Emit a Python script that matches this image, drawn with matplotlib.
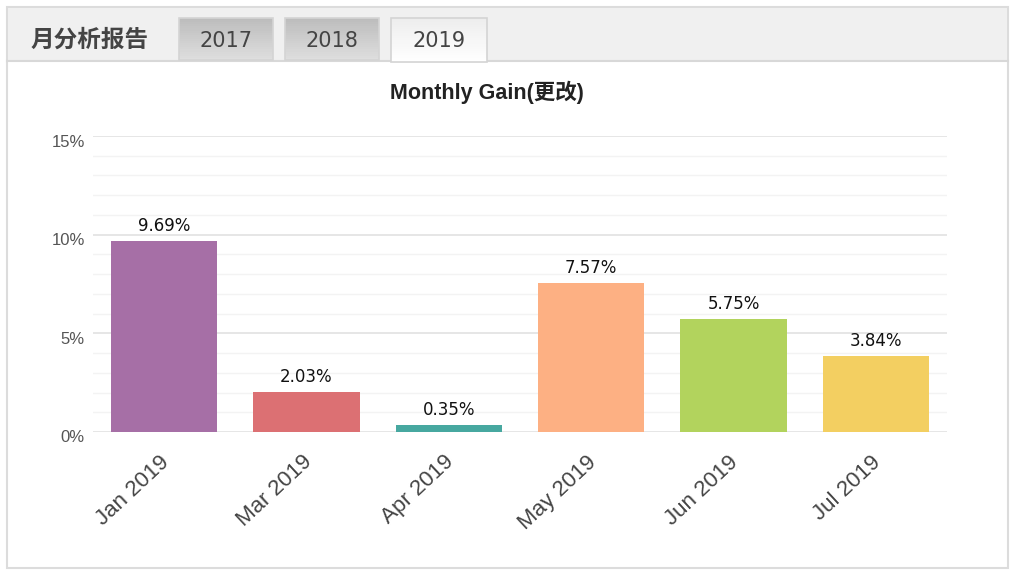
import matplotlib.pyplot as plt
from matplotlib.patches import Rectangle
from matplotlib.ticker import MultipleLocator, FuncFormatter
from matplotlib.transforms import ScaledTranslation
import numpy as np

months = ['Jan 2019', 'Mar 2019', 'Apr 2019', 'May 2019', 'Jun 2019', 'Jul 2019']
gains = [9.69, 2.03, 0.35, 7.57, 5.75, 3.84]
bar_colors = ['#a66fa6', '#dc7073', '#47a8a0', '#fdb083', '#b2d35d', '#f3cf61']
tabs = ['2017', '2018', '2019']
title = 'Monthly Gain(更改)'

W, H = 1014, 574
fig = plt.figure(figsize=(W / 100, H / 100), dpi=100, facecolor='white')


def px_rect(x0, y0, x1, y1, **kw):
    # rectangle in pixel coords, origin top-left
    kw.setdefault('zorder', -10)
    fig.patches.append(Rectangle((x0 / W, 1 - y1 / H), (x1 - x0) / W, (y1 - y0) / H,
                                 transform=fig.transFigure, figure=fig, **kw))


def gradient_rect(x0, y0, x1, y1, top, bottom, n=20):
    # vertical grey gradient made of thin strips
    hs = np.linspace(y0, y1, n + 1)
    gs = np.linspace(top, bottom, n)
    for k in range(n):
        g = gs[k]
        px_rect(x0, hs[k], x1, hs[k + 1] + 0.3, facecolor=(g, g, g), edgecolor='none', zorder=-8)


# outer panel and tab bar
px_rect(7, 7, 1008, 568, facecolor='white', edgecolor='#dcdcdc', lw=1.5)
px_rect(8, 8, 1007, 61, facecolor='#f0f0f0', edgecolor='none')
fig.lines.append(plt.Line2D([7 / W, 1008 / W], [1 - 61 / H, 1 - 61 / H],
                            transform=fig.transFigure, color='#d8d8d8', lw=1.5, zorder=-9))

cjk = ['Noto Sans CJK SC', 'DejaVu Sans']
fig.text(90 / W, 1 - 40 / H, '月分析报告', ha='center', va='center',
         fontsize=17, fontweight='bold', color='#444444', family=cjk)

tab_x = [179, 285, 391]
tab_w = [94, 94, 96]
for i, t in enumerate(tabs):
    active = (t == '2019')
    x0, x1 = tab_x[i], tab_x[i] + tab_w[i]
    y1 = 62 if active else 60
    if active:
        gradient_rect(x0, 18, x1, y1, 0.93, 1.0)
    else:
        gradient_rect(x0, 18, x1, y1, 0.74, 0.87)
    px_rect(x0, 18, x1, y1, facecolor='none', edgecolor='#d4d4d4', lw=1.2, zorder=-7)
    fig.text((x0 + x1) / 2 / W, 1 - 41 / H, t, ha='center', va='center',
             fontsize=15, color='#444444', family='DejaVu Sans')

fig.text(487 / W, 1 - 92 / H, title, ha='center', va='center', fontsize=15.5,
         fontweight='bold', color='#222222', family=['Liberation Sans', 'Noto Sans CJK SC'])

ax = fig.add_axes([93 / W, 142 / H, 854 / W, 296 / H])
ax.set_facecolor('none')
x = list(range(len(months)))
ax.bar(x, gains, width=0.745, color=bar_colors, zorder=3)
for xi, g in zip(x, gains):
    ax.text(xi, g + 0.3, f'{g:.2f}%', ha='center', va='bottom', fontsize=12,
            color='#111111', family='DejaVu Sans')

ax.set_xlim(-0.5, len(months) - 0.5)
ax.set_ylim(0, 15)
ax.yaxis.set_major_locator(MultipleLocator(5))
ax.yaxis.set_minor_locator(MultipleLocator(1))
ax.yaxis.set_major_formatter(FuncFormatter(lambda v, p: f'{v:.0f}%'))
ax.grid(which='major', axis='y', color='#e2e2e2', lw=1.2, zorder=0)
ax.grid(which='minor', axis='y', color='#f3f3f3', lw=1.0, zorder=0)
ax.set_axisbelow(True)
for s in ax.spines.values():
    s.set_visible(False)
ax.tick_params(axis='both', which='both', length=0)
ax.tick_params(axis='y', pad=6, labelsize=12, labelcolor='#555555')
ax.set_xticks(x)
ax.set_xticklabels(months, rotation=43, ha='right', rotation_mode='anchor',
                   fontsize=16, color='#444444', family='Liberation Sans')
ax.tick_params(axis='x', pad=14)

# nudge x labels a little left, y labels a few pixels below their grid lines
xshift = ScaledTranslation(-0.05, 0, fig.dpi_scale_trans)
for lab in ax.get_xticklabels():
    lab.set_transform(lab.get_transform() + xshift)
shift = ScaledTranslation(0, -0.045, fig.dpi_scale_trans)
for lab in ax.get_yticklabels():
    lab.set_family('Liberation Sans')
    lab.set_transform(lab.get_transform() + shift)

fig.savefig('out.png', dpi=100, facecolor='white')
